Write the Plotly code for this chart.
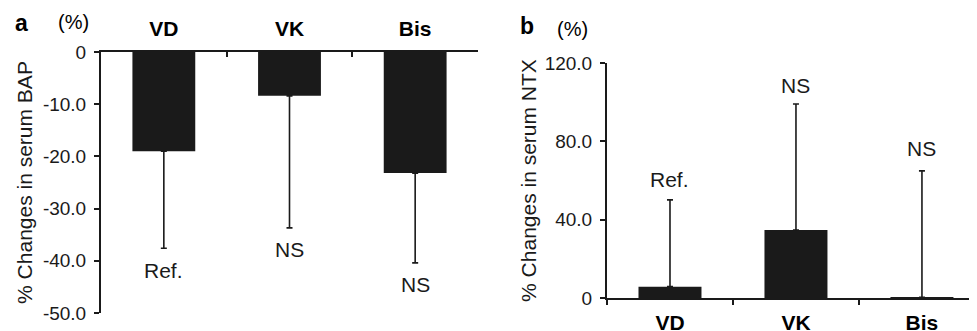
import plotly.graph_objects as go

categories = ["VD", "VK", "Bis"]
bap_values = [-19.0, -8.4, -23.2]
bap_err_down = [18.6, 25.3, 17.2]
bap_labels = ["Ref.", "NS", "NS"]
bap_label_y = [-41.8, -37.9, -44.6]

ntx_values = [5.8, 34.7, 0.3]
ntx_err_up = [44.3, 64.4, 64.6]
ntx_labels = ["Ref.", "NS", "NS"]
ntx_label_y = [60.3, 108.3, 76.1]

bap_ticks = [0, -10, -20, -30, -40, -50]
bap_ticktext = ["0", "-10.0", "-20.0", "-30.0", "-40.0", "-50.0"]
ntx_ticks = [0, 40, 80, 120]
ntx_ticktext = ["0", "40.0", "80.0", "120.0"]

FONT = "Liberation Sans, Arial, Helvetica, sans-serif"
BLACK = "#1a1a1a"
W, H = 977, 331
OFF = 8  # page body margin


def px(x):
    return (x - OFF) / W


def py(y):
    return 1 - (y - OFF) / H


fig = go.Figure()

fig.add_trace(go.Bar(
    x=categories, y=bap_values, width=0.5, marker=dict(color=BLACK, line=dict(width=0)),
    error_y=dict(type="data", symmetric=False, array=[0, 0, 0], arrayminus=bap_err_down,
                 color=BLACK, thickness=1.6, width=3),
    xaxis="x", yaxis="y", showlegend=False,
))
fig.add_trace(go.Bar(
    x=categories, y=ntx_values, width=0.5, marker=dict(color=BLACK, line=dict(width=0)),
    error_y=dict(type="data", symmetric=False, array=ntx_err_up, arrayminus=[0, 0, 0],
                 color=BLACK, thickness=1.6, width=3),
    xaxis="x2", yaxis="y2", showlegend=False,
))

annotations = []
for c, t, y in zip(categories, bap_labels, bap_label_y):
    annotations.append(dict(x=c, y=y, xref="x", yref="y", text=t, showarrow=False,
                            font=dict(size=21, family=FONT, color=BLACK)))
for c, t, y in zip(categories, ntx_labels, ntx_label_y):
    annotations.append(dict(x=c, y=y, xref="x2", yref="y2", text=t, showarrow=False,
                            font=dict(size=21, family=FONT, color=BLACK)))

corner = [("<b>a</b>", 21, 23, 23), ("(%)", 73, 22, 20), ("<b>b</b>", 527, 26, 23), ("(%)", 572, 29, 20)]
for t, x, y, s in corner:
    annotations.append(dict(x=px(x), y=py(y), xref="paper", yref="paper", text=t,
                            xanchor="center", yanchor="middle", showarrow=False,
                            font=dict(size=s, family=FONT, color="black")))

axis_common = dict(showline=True, linecolor=BLACK, linewidth=2, showgrid=False, zeroline=False,
                   tickcolor=BLACK, tickwidth=2, ticklen=5, automargin=False)

fig.update_layout(
    width=W, height=H,
    margin=dict(l=0, r=0, t=0, b=0, autoexpand=False),
    paper_bgcolor="white", plot_bgcolor="white",
    font=dict(family=FONT, color=BLACK),
    xaxis=dict(domain=[px(101), px(478)], anchor="y", side="top", type="category",
               range=[-0.5, 2.5], tickson="boundaries", ticks="inside",
               tickfont=dict(size=21, family=FONT, color="black"),
               ticktext=["<b>VD</b>", "<b>VK</b>", "<b>Bis</b>"], tickvals=categories,
               ticklabelstandoff=6, **axis_common),
    yaxis=dict(domain=[py(313), py(52)], anchor="x", range=[-50, 0],
               tickvals=bap_ticks, ticktext=bap_ticktext, ticks="outside",
               tickfont=dict(size=19, family=FONT, color=BLACK), ticklabelstandoff=4,
               title=dict(text="% Changes in serum BAP", font=dict(size=21, family=FONT, color=BLACK),
                          standoff=5),
               **axis_common),
    xaxis2=dict(domain=[px(607), px(977)], anchor="y2", type="category",
                range=[-0.5, 2.437], tickson="boundaries", ticks="outside",
                tickfont=dict(size=21, family=FONT, color="black"),
                ticktext=["<b>VD</b>", "<b>VK</b>", "<b>Bis</b>"], tickvals=categories,
                ticklabelstandoff=5, **axis_common),
    yaxis2=dict(domain=[py(298), py(63)], anchor="x2", range=[0, 120],
                tickvals=ntx_ticks, ticktext=ntx_ticktext, ticks="outside",
                tickfont=dict(size=19, family=FONT, color=BLACK), ticklabelstandoff=4,
                title=dict(text="% Changes in serum NTX", font=dict(size=21, family=FONT, color=BLACK),
                           standoff=2),
                **axis_common),
    annotations=annotations,
)

fig.write_html("out.html")
